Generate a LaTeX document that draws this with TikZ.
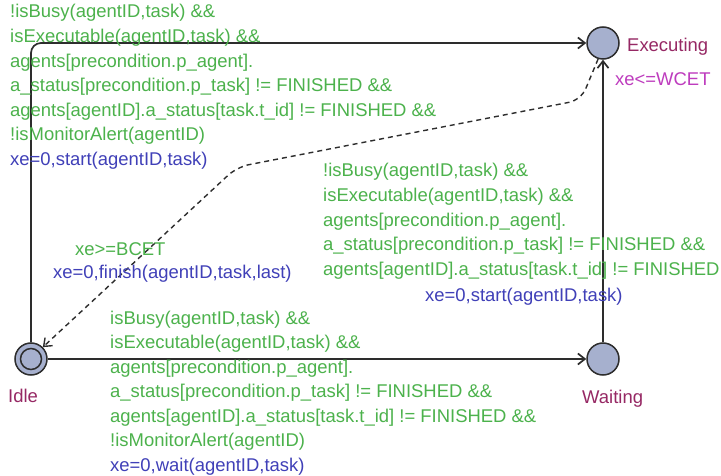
\documentclass[tikz,border=0pt]{standalone}
\usepackage{fontspec}
\setmainfont{Liberation Sans}
\usetikzlibrary{arrows.meta}
\definecolor{grd}{RGB}{76,178,76}
\definecolor{asg}{RGB}{64,64,184}
\definecolor{nam}{RGB}{150,40,100}
\definecolor{inv}{RGB}{190,60,190}
\definecolor{locfill}{RGB}{166,176,206}
\definecolor{edgec}{RGB}{45,45,45}
\begin{document}
\begin{tikzpicture}[x=1pt,y=-1pt,
  loc/.style={circle,draw=edgec,line width=1.5pt,fill=locfill,minimum size=32pt,inner sep=0pt},
  txt/.style={inner sep=0pt,anchor=base west,font=\fontsize{18.45}{24.6}\selectfont},
  trans/.style={draw=edgec,line width=1.7pt,-{Straight Barb[length=7pt,width=11pt]},rounded corners=10pt},
  dtrans/.style={draw=edgec,line width=1.4pt,dash pattern=on 5pt off 4pt,-{Straight Barb[length=7pt,width=11pt]},rounded corners=12pt},
  ]
\useasboundingbox (0,0) rectangle (721,476);
\fill[white] (0,0) rectangle (721,476);

% locations
\node[loc] (exec) at (603,43) {};
\node[loc] (wait) at (603,359) {};
\node[loc] (idle) at (31,359) {};
\node[circle,draw=edgec,line width=1.5pt,minimum size=21pt,inner sep=0pt] (idlein) at (idle) {};

% names and invariants
\node[txt,text=nam] (nexec) at (627,52) {Executing};
\node[txt,text=inv] (iexec) at (615,86) {xe<=WCET};
\node[txt,text=nam] (nidle) at (8,402) {Idle};
\node[txt,text=nam] (nwait) at (582,403) {Waiting};

% transitions
\draw[trans] (idle.north) |- (exec.west);
\draw[trans] (idle.east) -- (wait.west);
\draw[trans] (wait.north) -- (exec.south);
\coordinate (d1) at (581,100);
\coordinate (d2) at (237,167);
\draw[dtrans] (exec.253) -- (d1) -- (d2) -- (idle.45);

% labels
\node[txt,text=grd] (lab1) at (10,18) {\begin{tabular}[t]{@{}l@{}}
!isBusy(agentID,task) \&\&\\
isExecutable(agentID,task) \&\&\\
agents[precondition.p\_agent].\\
a\_status[precondition.p\_task] != FINISHED \&\&\\
agents[agentID].a\_status[task.t\_id] != FINISHED \&\&\\
!isMonitorAlert(agentID)\\
\color{asg}xe=0,start(agentID,task)
\end{tabular}};

\node[txt,text=grd] (lab2) at (323,177) {\begin{tabular}[t]{@{}l@{}}
!isBusy(agentID,task) \&\&\\
isExecutable(agentID,task) \&\&\\
agents[precondition.p\_agent].\\
a\_status[precondition.p\_task] != FINISHED \&\&\\
agents[agentID].a\_status[task.t\_id] != FINISHED
\end{tabular}};
\node[txt,text=asg] (lab2a) at (425,301) {xe=0,start(agentID,task)};

\node[txt,text=grd] (lab3) at (110,324) {\begin{tabular}[t]{@{}l@{}}
isBusy(agentID,task) \&\&\\
isExecutable(agentID,task) \&\&\\
agents[precondition.p\_agent].\\
a\_status[precondition.p\_task] != FINISHED \&\&\\
agents[agentID].a\_status[task.t\_id] != FINISHED \&\&\\
!isMonitorAlert(agentID)\\
\color{asg}xe=0,wait(agentID,task)
\end{tabular}};

\node[txt,text=grd] (lab4) at (75,255) {xe>=BCET};
\node[txt,text=asg] (lab4a) at (53,278) {xe=0,finish(agentID,task,last)};
\end{tikzpicture}
\end{document}
